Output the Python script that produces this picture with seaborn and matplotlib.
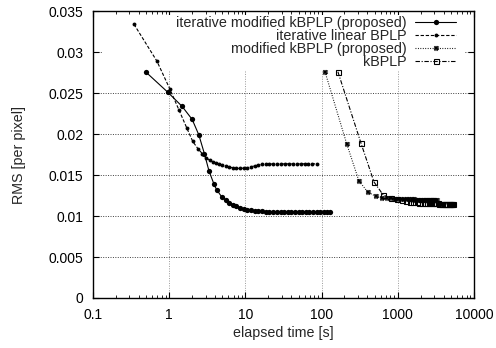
import matplotlib
matplotlib.use("Agg")
import matplotlib.pyplot as plt
import matplotlib.ticker as mticker
from matplotlib.patches import Rectangle
import seaborn as sns
import pandas as pd

# ---- data ----
iter_mod_t = [0.49, 0.96, 1.47, 2.0, 2.45, 2.9, 3.33, 3.87, 4.2, 4.93, 5.56, 6.1, 6.8, 7.6,
              8.5, 9.5, 10.6, 11.8, 13.2, 14.8, 16.5, 18.5, 20.7, 23, 26, 29, 32, 36, 40, 45,
              50, 56, 62, 69, 77, 86, 96, 107, 118, 128]
iter_mod_v = [0.0276, 0.0251, 0.0234, 0.0218, 0.0199, 0.0176, 0.0155, 0.0139, 0.0132, 0.0123,
              0.01195, 0.01165, 0.0114, 0.01118, 0.0110, 0.01088, 0.01078, 0.0107, 0.01064,
              0.0106, 0.01057, 0.01055, 0.01053, 0.01052, 0.01051, 0.0105, 0.0105, 0.01049,
              0.01049, 0.01048, 0.01048, 0.01047, 0.01047, 0.01046, 0.01046, 0.01045, 0.01045,
              0.01045, 0.01045, 0.01045]

iter_lin_t = [0.345, 0.69, 1.02, 1.35, 1.71, 2.04, 2.39, 2.73, 3.07, 3.41, 3.75, 4.1, 4.5, 5.0,
              5.5, 6.1, 6.8, 7.6, 8.5, 9.5, 10.6, 11.8, 13.2, 14.8, 16.5, 18.5, 20.7, 23, 26,
              29, 33, 37, 42, 47, 53, 60, 67, 76, 87]
iter_lin_v = [0.0334, 0.0289, 0.0255, 0.0229, 0.0207, 0.0191, 0.0182, 0.0176, 0.0171, 0.0168,
              0.0166, 0.01645, 0.0163, 0.0162, 0.0161, 0.0160, 0.01588, 0.01582, 0.0158,
              0.01585, 0.0159, 0.0160, 0.01612, 0.01622, 0.0163, 0.01634, 0.01635, 0.01635,
              0.01636, 0.01636, 0.01636, 0.01637, 0.01637, 0.01637, 0.01637, 0.01637, 0.01637,
              0.01637, 0.01637]

mod_t = [111, 214, 309, 406, 518, 620, 720, 820, 920, 1020, 1120, 1220, 1320, 1420, 1520, 1620,
         1720, 1820, 1920, 2020, 2120, 2220, 2320, 2420, 2520, 2620, 2720, 2820, 2920, 3020,
         3120, 3250]
mod_v = [0.0276, 0.0188, 0.0143, 0.0129, 0.0124, 0.01225, 0.0122, 0.01215, 0.01212, 0.0121,
         0.01208, 0.01206, 0.01205, 0.01204, 0.01203, 0.01202, 0.01201, 0.0120, 0.0120, 0.0120,
         0.01199, 0.01199, 0.01198, 0.01198, 0.01197, 0.01197, 0.01196, 0.01196, 0.01195,
         0.01195, 0.01195, 0.01195]

kb_t = [164, 329, 488, 646, 806, 966, 1126, 1286, 1446, 1606, 1766, 1926, 2086, 2246, 2406,
        2566, 2726, 2886, 3046, 3206, 3366, 3526, 3686, 3846, 4006, 4166, 4326, 4486, 4646,
        4806, 4966, 5126, 5280]
kb_v = [0.0276, 0.0189, 0.01415, 0.01256, 0.0122, 0.01205, 0.0119, 0.01182, 0.01176, 0.01172,
        0.01168, 0.01165, 0.01163, 0.01161, 0.0116, 0.01158, 0.01157, 0.01156, 0.01155,
        0.01154, 0.01153, 0.01152, 0.01151, 0.0115, 0.0115, 0.01149, 0.01149, 0.01148,
        0.01148, 0.01147, 0.01147, 0.01146, 0.01146]

labels = ["iterative modified kBPLP (proposed)", "iterative linear BPLP",
          "modified kBPLP (proposed)", "kBPLP"]
xticks = [0.1, 1, 10, 100, 1000, 10000]
xticklabels = ["0.1", "1", "10", "100", "1000", "10000"]
yticks = [0, 0.005, 0.01, 0.015, 0.02, 0.025, 0.03, 0.035]
yticklabels = ["0", "0.005", "0.01", "0.015", "0.02", "0.025", "0.03", "0.035"]

# ---- style ----
sns.set_style("ticks")
plt.rcParams['font.family'] = ['Liberation Sans', 'DejaVu Sans']
plt.rcParams['font.size'] = 10

fig = plt.figure(figsize=(4.96, 3.48), dpi=100)
ax = fig.add_axes([0.1875, 0.1437, 0.768, 0.8243])

series = [
    (iter_mod_t, iter_mod_v, dict(linestyle='-', marker='o', markersize=3.8,
                                  markerfacecolor='black', markeredgecolor='black',
                                  markeredgewidth=0)),
    (iter_lin_t, iter_lin_v, dict(linestyle=(0, (3, 1.6)), marker='o', markersize=2.8,
                                  markerfacecolor='black', markeredgecolor='black',
                                  markeredgewidth=0)),
    (mod_t, mod_v, dict(linestyle=(0, (0.8, 1.4)), marker='X', markersize=3.6,
                        markerfacecolor='black', markeredgecolor='black',
                        markeredgewidth=0.3)),
    (kb_t, kb_v, dict(linestyle=(0, (4, 1.5, 1, 1.5)), marker='s', markersize=3.6,
                      markerfacecolor='none', markeredgecolor='black',
                      markeredgewidth=0.8)),
]
for (t, v, kw), lab in zip(series, labels):
    df = pd.DataFrame({"t": t, "v": v})
    sns.lineplot(data=df, x="t", y="v", ax=ax, color='black', linewidth=0.8,
                 label=lab, estimator=None, sort=False, zorder=3, **kw)

ax.set_xscale('log')
ax.set_xlim(0.1, 10000)
ax.set_ylim(0, 0.035)
ax.set_xticks(xticks)
ax.set_xticklabels(xticklabels)
ax.xaxis.set_minor_locator(mticker.LogLocator(base=10, subs=range(2, 10), numticks=20))
ax.xaxis.set_minor_formatter(mticker.NullFormatter())
ax.set_yticks(yticks)
ax.set_yticklabels(yticklabels)
ax.tick_params(which='both', direction='in', top=True, right=True, colors='black',
               labelsize=10)
ax.tick_params(which='major', length=4, width=0.8, pad=7)
ax.tick_params(which='minor', length=2, width=0.6)
for s in ax.spines.values():
    s.set_linewidth(1.0)
    s.set_color('black')

ax.grid(True, which='major', axis='y', linestyle=(0, (1, 1.5)), color='#404040', linewidth=0.7)
ax.grid(True, which='major', axis='x', linestyle=(0, (1, 1.5)), color='#999999', linewidth=0.7)
ax.set_axisbelow(True)

# key area blanks the grid (gnuplot style)
ax.add_patch(Rectangle((0.026, 0.795), 0.95, 0.19, transform=ax.transAxes,
                       facecolor='white', edgecolor='none', zorder=1.5))

ax.set_xlabel("elapsed time [s]", fontsize=10.3, labelpad=3)
ax.set_ylabel("RMS [per pixel]", fontsize=10.3, labelpad=16)

leg = ax.legend(loc='upper right', bbox_to_anchor=(0.958, 0.988), frameon=False,
                markerfirst=False, handlelength=2.9, handletextpad=0.55,
                labelspacing=-0.06, borderpad=0.1, borderaxespad=0, fontsize=10.4)
# right-align the key entries (gnuplot style)
for col in leg._legend_box._children[-1]._children:
    col.align = 'right'

fig.savefig("out.png", dpi=100)
